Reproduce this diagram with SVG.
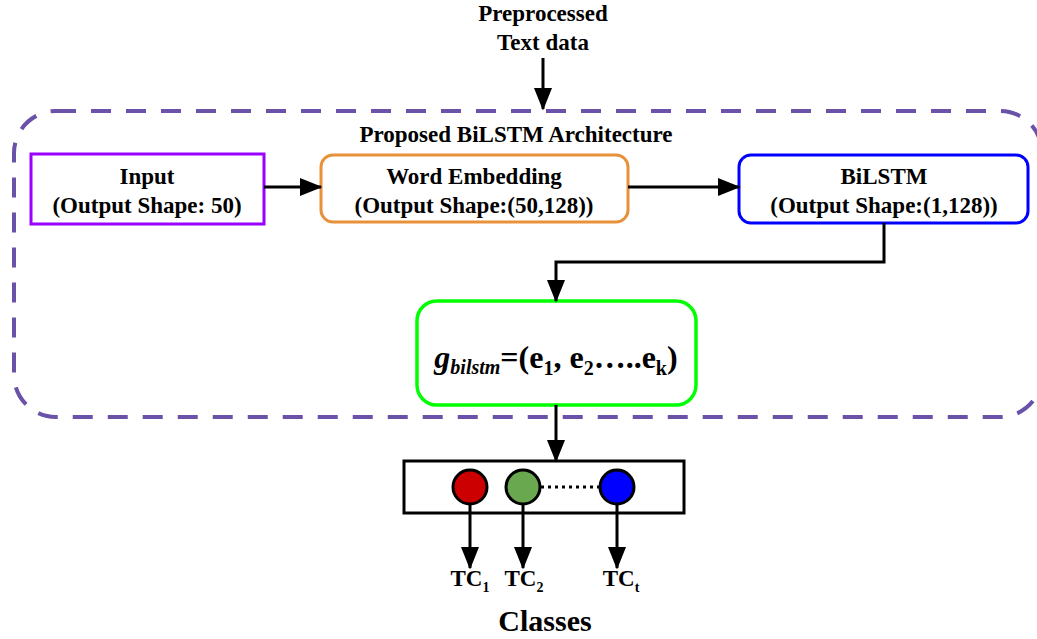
<svg xmlns="http://www.w3.org/2000/svg" width="1037" height="639" viewBox="0 0 1037 639">
<style>
text{font-family:'Liberation Serif','Times New Roman',serif;font-weight:bold;fill:#000;text-anchor:middle}
.lbl{font-size:23px}
.conn{stroke:#000;stroke-width:3;fill:none}
</style>
<defs>
<marker id="ah" markerWidth="7.5" markerHeight="6" refX="7" refY="3" orient="auto" markerUnits="strokeWidth">
<path d="M0,0 L7.5,3 L0,6 Z" fill="#000"/>
</marker>
</defs>
<rect width="1037" height="639" fill="#fff"/>
<g id="container">
<rect x="14" y="111" width="1028" height="306" rx="42" ry="42" fill="none" stroke="#6a52a8" stroke-width="4" stroke-dasharray="20,15"/>
<text x="516" y="142" font-family="Liberation Serif" style="font-size:23px">Proposed BiLSTM Architecture</text>
</g>
<g id="source">
<text x="543" y="21" class="lbl" font-family="Liberation Serif">Preprocessed</text>
<text x="543" y="50" class="lbl" font-family="Liberation Serif">Text data</text>
</g>
<g id="input">
<rect x="31" y="154" width="233" height="70" fill="#fff" stroke="#9900ff" stroke-width="3"/>
<text x="147" y="184" class="lbl" font-family="Liberation Serif">Input</text>
<text x="147" y="213" class="lbl" font-family="Liberation Serif">(Output Shape: 50)</text>
</g>
<g id="embedding">
<rect x="321" y="155" width="307" height="67" rx="12" ry="12" fill="#fff" stroke="#e8913a" stroke-width="3"/>
<text x="474" y="184" class="lbl" font-family="Liberation Serif">Word Embedding</text>
<text x="474" y="213" class="lbl" font-family="Liberation Serif">(Output Shape:(50,128))</text>
</g>
<g id="bilstm">
<rect x="739" y="155" width="289" height="68" rx="12" ry="12" fill="#fff" stroke="#0000ff" stroke-width="3"/>
<text x="884" y="184" class="lbl" font-family="Liberation Serif">BiLSTM</text>
<text x="884" y="213" class="lbl" font-family="Liberation Serif">(Output Shape:(1,128))</text>
</g>
<g id="features">
<rect x="417" y="301" width="279" height="104" rx="20" ry="20" fill="#fff" stroke="#00ff00" stroke-width="3.5"/>
<text x="556" y="368" font-family="Liberation Serif" style="font-size:32px"><tspan font-style="italic">g</tspan><tspan font-style="italic" font-size="20px" dy="6">bilstm</tspan><tspan dy="-6">=(e</tspan><tspan font-size="20px" dy="7">1</tspan><tspan dy="-7">, e</tspan><tspan font-size="20px" dy="7">2</tspan><tspan dy="-7">…..e</tspan><tspan font-size="20px" dy="7">k</tspan><tspan dy="-7">)</tspan></text>
</g>
<g id="output">
<rect x="404" y="461" width="280" height="52" fill="#fff" stroke="#000" stroke-width="3"/>
<line x1="541" y1="487" x2="600" y2="487" stroke="#000" stroke-width="3" stroke-dasharray="3,4"/>
<circle cx="470" cy="487" r="17" fill="#cc0000" stroke="#000" stroke-width="3"/>
<circle cx="523" cy="487" r="17" fill="#6aa84f" stroke="#000" stroke-width="3"/>
<circle cx="617" cy="487" r="17" fill="#0000ff" stroke="#000" stroke-width="3"/>
</g>
<g id="classes">
<text x="470" y="586" class="lbl" font-family="Liberation Serif">TC<tspan font-size="14px" dy="6">1</tspan></text>
<text x="524" y="586" class="lbl" font-family="Liberation Serif">TC<tspan font-size="14px" dy="6">2</tspan></text>
<text x="621" y="586" class="lbl" font-family="Liberation Serif">TC<tspan font-size="14px" dy="6">t</tspan></text>
<text x="545" y="631" font-family="Liberation Serif" style="font-size:30px">Classes</text>
</g>
<g id="connectors">
<line class="conn" x1="543" y1="58" x2="543" y2="109" marker-end="url(#ah)"/>
<line class="conn" x1="264" y1="187" x2="321" y2="187" marker-end="url(#ah)"/>
<line class="conn" x1="628" y1="187" x2="739" y2="187" marker-end="url(#ah)"/>
<polyline class="conn" points="884,223 884,262 556,262 556,301" marker-end="url(#ah)"/>
<line class="conn" x1="556" y1="405" x2="556" y2="461" marker-end="url(#ah)"/>
<line class="conn" x1="470" y1="504" x2="470" y2="568" marker-end="url(#ah)"/>
<line class="conn" x1="523" y1="504" x2="523" y2="568" marker-end="url(#ah)"/>
<line class="conn" x1="617" y1="504" x2="617" y2="568" marker-end="url(#ah)"/>
</g>
</svg>
